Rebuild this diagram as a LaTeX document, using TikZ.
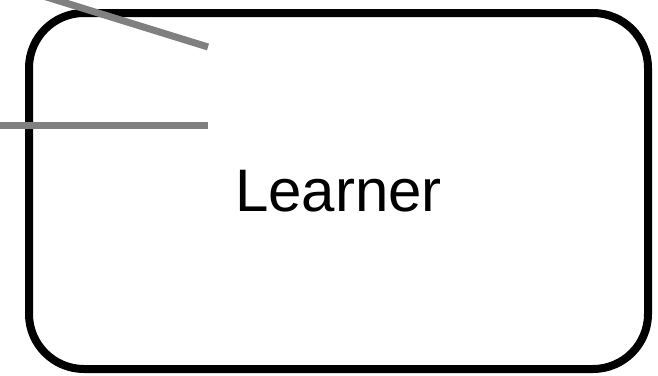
\documentclass[tikz,border=0pt]{standalone}
\usepackage{fontspec}
\setmainfont{Liberation Sans}
\begin{document}
\begin{tikzpicture}[x=1pt,y=-1pt,
  box/.style={draw=black,line width=8pt,rounded corners=55pt,fill=white,
    minimum width=619pt,minimum height=356pt,inner sep=0pt,
    font=\fontsize{60}{72}\selectfont},
  wire/.style={draw=gray50,line width=7pt}]
\definecolor{gray50}{HTML}{808080}
\useasboundingbox (0,0) rectangle (658,375);
\node[box] (learner) at (338.5,191) {Learner};
\coordinate (in1) at (40,-5);
\coordinate (in2) at (-10,125);
\coordinate (e1) at (208,47);
\coordinate (e2) at (208,125);
\draw[wire] (in1) -- (e1);
\draw[wire] (in2) -- (e2);
\end{tikzpicture}
\end{document}
